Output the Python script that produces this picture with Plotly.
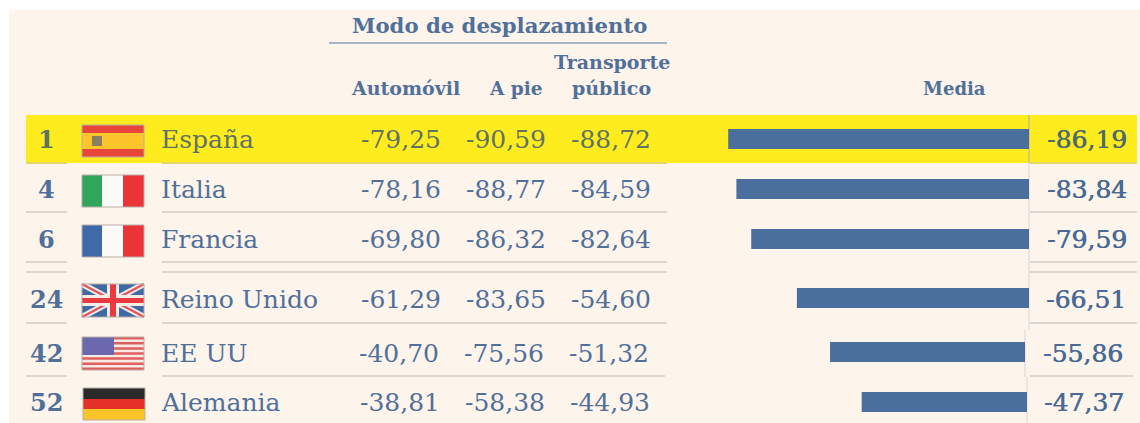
import plotly.graph_objects as go

# ---------- data ----------
ranks = ["1", "4", "6", "24", "42", "52"]
countries = ["España", "Italia", "Francia", "Reino Unido", "EE UU", "Alemania"]
automovil = [-79.25, -78.16, -69.80, -61.29, -40.70, -38.81]
a_pie = [-90.59, -88.77, -86.32, -83.65, -75.56, -58.38]
transporte = [-88.72, -84.59, -82.64, -54.60, -51.32, -44.93]
media = [-86.19, -83.84, -79.59, -66.51, -55.86, -47.37]

# ---------- layout constants (pixels) ----------
W, H = 1140, 423
ROW_Y = [139, 189, 239, 298, 352, 402]
ROW_TEXT_Y = [139.5, 189, 239.5, 299.5, 353, 402.5]
ROW_SHIFT = [0, 0, 0, 0, -2, -1]
BASELINE = [1029, 1029, 1029, 1029, 1025, 1027]
PX_PER_UNIT = 3.49
BLUE = "#50709a"
BAR = "#4a6f9c"
OLIVE = "#5f7362"
BG = "#fdf4ec"
RULE = "#dcd7d3"
SERIF = "DejaVu Serif, serif"
VAL_SIZE = 25


def fmt(v):
    return f"{v:.2f}".replace(".", ",")


fig = go.Figure()
shapes, ann = [], []


def rect(x0, y0, x1, y1, fill, line=None):
    shapes.append(dict(type="rect", xref="x", yref="y", x0=x0, y0=y0, x1=x1, y1=y1,
                       fillcolor=fill, line=dict(width=1 if line else 0, color=line or fill), layer="below"))


def hline(x0, x1, y, color=RULE, width=2):
    shapes.append(dict(type="line", xref="x", yref="y", x0=x0, x1=x1, y0=y, y1=y,
                       line=dict(color=color, width=width), layer="below"))


def vline(x, y0, y1, color="#e6dfdc", width=1.5):
    shapes.append(dict(type="line", xref="x", yref="y", x0=x, x1=x, y0=y0, y1=y1,
                       line=dict(color=color, width=width), layer="below"))


def seg(x0, y0, x1, y1, color, width):
    shapes.append(dict(type="line", xref="x", yref="y", x0=x0, x1=x1, y0=y0, y1=y1,
                       line=dict(color=color, width=width), layer="below"))


def text(x, y, s, size, color=BLUE, bold=False, anchor="center", heavy=False):
    font = dict(family=SERIF, size=size, color=color)
    if heavy:
        font["shadow"] = f"0.6px 0 0 {color}"
    ann.append(dict(xref="x", yref="y", x=x, y=y, text=f"<b>{s}</b>" if bold else s, showarrow=False,
                    xanchor=anchor, yanchor="middle", font=font))


# background & highlight
rect(9, 10, 1140, 423, BG)
rect(26, 115, 1137, 163, "#ffec1f")

# rules
for y, e1, e2 in [(163, 667, 1137), (212, 667, 1137), (262, 667, 1137), (272, 667, 1137),
                  (323, 667, 1137), (376, 665, 1133)]:
    c = "#e6d66a" if y == 163 else RULE
    hline(26, 67, y, c)
    hline(162, e1, y, c)
    hline(1030, e2, y, c)
hline(329, 667, 43, "#a9b4c4", 2)
vline(1029, 115, 163, "#c9c28a")
vline(1029, 163, 330)
vline(1025, 330, 377)
vline(1027, 377, 423)

# flags
FX0, FX1 = 82, 144


def flag_frame(y0, y1):
    shapes.append(dict(type="rect", xref="x", yref="y", x0=FX0, x1=FX1, y0=y0, y1=y1,
                       fillcolor="rgba(0,0,0,0)", line=dict(color="#b9aea6", width=1), layer="below"))


# Spain
rect(FX0, 125, FX1, 157, "#e8463a")
rect(FX0, 133, FX1, 149, "#fdc52c")
rect(92, 136, 102, 146, "#8a7f5f")
flag_frame(125, 157)
# Italy
rect(FX0, 175, 102, 207, "#2fa65a")
rect(102, 175, 123, 207, "#fdfbf8")
rect(123, 175, FX1, 207, "#ea3438")
flag_frame(175, 207)
# France
rect(FX0, 225, 102, 257, "#3f69a8")
rect(102, 225, 123, 257, "#fdfbf8")
rect(123, 225, FX1, 257, "#ea3438")
flag_frame(225, 257)
# UK
rect(FX0, 284, FX1, 317, "#3f69a3")
seg(FX0, 284, FX1, 317, "#f5ece8", 6)
seg(FX0, 317, FX1, 284, "#f5ece8", 6)
seg(FX0, 284, FX1, 317, "#e8505a", 2)
seg(FX0, 317, FX1, 284, "#e8505a", 2)
rect(107, 284, 119, 317, "#f5ece8")
rect(FX0, 295, FX1, 306, "#f5ece8")
rect(110, 284, 116, 317, "#e93a42")
rect(FX0, 298, FX1, 303, "#e93a42")
flag_frame(284, 317)
# USA
rect(FX0, 337, FX1, 370, "#f7e9e4")
for k in range(0, 7):
    y0 = 337 + k * 33 / 6.5
    rect(FX0, y0, FX1, y0 + 2.5, "#df5f5f")
rect(FX0, 337, 114, 355, "#6a69ad")
flag_frame(337, 370)
# Germany
rect(83, 388, 145, 399, "#2b2a2a")
rect(83, 399, 145, 409, "#e42f28")
rect(83, 409, 145, 420, "#fdc42a")
shapes.append(dict(type="rect", xref="x", yref="y", x0=83, x1=145, y0=388, y1=420,
                   fillcolor="rgba(0,0,0,0)", line=dict(color="#b9aea6", width=1), layer="below"))

# headers
text(499, 25, "Modo de desplazamiento", 21.2, bold=True)
text(405, 88, "Automóvil", 19, bold=True)
text(515.5, 88, "A pie", 18.5, bold=True)
text(611.5, 62, "Transporte", 19, bold=True)
text(611, 88, "público", 19, bold=True)
text(954.5, 88, "Media", 18, bold=True)

# rows
for i in range(6):
    y = ROW_TEXT_Y[i]
    s = ROW_SHIFT[i]
    c = OLIVE if i == 0 else BLUE
    text(46, y, ranks[i], VAL_SIZE - 1, c, bold=True)
    text(159, y, countries[i], VAL_SIZE, c, anchor="left")
    text(443 + s, y, fmt(automovil[i]), VAL_SIZE, c, anchor="right")
    text(548 + s, y, fmt(a_pie[i]), VAL_SIZE, c, anchor="right")
    text(653 + s, y, fmt(transporte[i]), VAL_SIZE, c, anchor="right")
    right = [1129, 1129, 1129, 1128, 1125, 1126][i]
    text(right, y, fmt(media[i]), VAL_SIZE, "#4d6a6c" if i == 0 else "#486a96", anchor="right", heavy=True)

# bars: one value axis per distinct baseline
axes = {}
layout_axes = {}
for b in sorted(set(BASELINE)):
    name = f"x{len(axes) + 2}"
    axes[b] = name
    layout_axes[f"xaxis{len(axes) + 1}"] = dict(
        range=[-b / PX_PER_UNIT, (W - b) / PX_PER_UNIT], domain=[0, 1], overlaying="x",
        visible=False, fixedrange=True, anchor="y")

for b, name in axes.items():
    idx = [i for i in range(6) if BASELINE[i] == b]
    fig.add_trace(go.Bar(x=[media[i] for i in idx], y=[ROW_Y[i] for i in idx], orientation="h",
                         width=20, marker=dict(color=BAR, line=dict(width=0)), xaxis=name, yaxis="y",
                         hoverinfo="skip", showlegend=False))

fig.update_layout(
    width=W, height=H, margin=dict(l=0, r=0, t=0, b=0),
    paper_bgcolor="white", plot_bgcolor="rgba(0,0,0,0)",
    xaxis=dict(range=[0, W], visible=False, fixedrange=True, domain=[0, 1]),
    yaxis=dict(range=[H, 0], visible=False, fixedrange=True, domain=[0, 1]),
    shapes=shapes, annotations=ann, showlegend=False, **layout_axes,
)
fig.write_html("out.html", config={"displayModeBar": False},
               post_script="document.body.style.margin='0';document.body.style.overflow='hidden';")
